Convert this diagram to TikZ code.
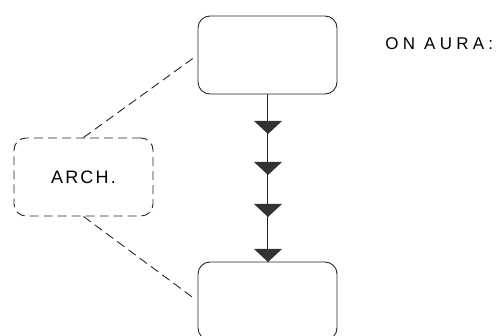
\documentclass[tikz,border=0pt]{standalone}
\usepackage{fontspec}
\setsansfont{Liberation Sans}
\newfontfamily\aurafont[LetterSpace=25]{Liberation Sans}
\newfontfamily\archfont[LetterSpace=12]{Liberation Sans}
\begin{document}
\begin{tikzpicture}[x=1pt, y=-1pt, line width=0.9pt, draw=black!85,
  box/.style={draw, rounded corners=12pt, minimum width=139pt, minimum height=78pt, inner sep=0pt},
  dashbox/.style={box, dash pattern=on 9pt off 5pt},
  tri/.style={fill=black!80}]
\useasboundingbox (0,0) rectangle (497,336);
\node[box] (top) at (267.5,55) {};
\node[box] (bot) at (267.5,301) {};
\node[dashbox] (arch) at (83.5,177) {\archfont\fontsize{18}{18}\selectfont\raisebox{-2pt}{ARCH.}};
\node[anchor=base west, inner sep=0pt] (aura) at (385,50) {\aurafont\fontsize{17}{17}\selectfont ON AURA:};

\draw (top.south) -- (bot.north);
\foreach \y in {134,175,217,262}
	\fill[tri] (268,\y) -- ++(-14,-13) -- ++(28,0) -- cycle;

\draw[dash pattern=on 9pt off 5pt, shorten >=6pt] (arch.north) -- (top.west);
\draw[dash pattern=on 9pt off 5pt, shorten >=3pt] (arch.south) -- (bot.west);
\end{tikzpicture}
\end{document}
